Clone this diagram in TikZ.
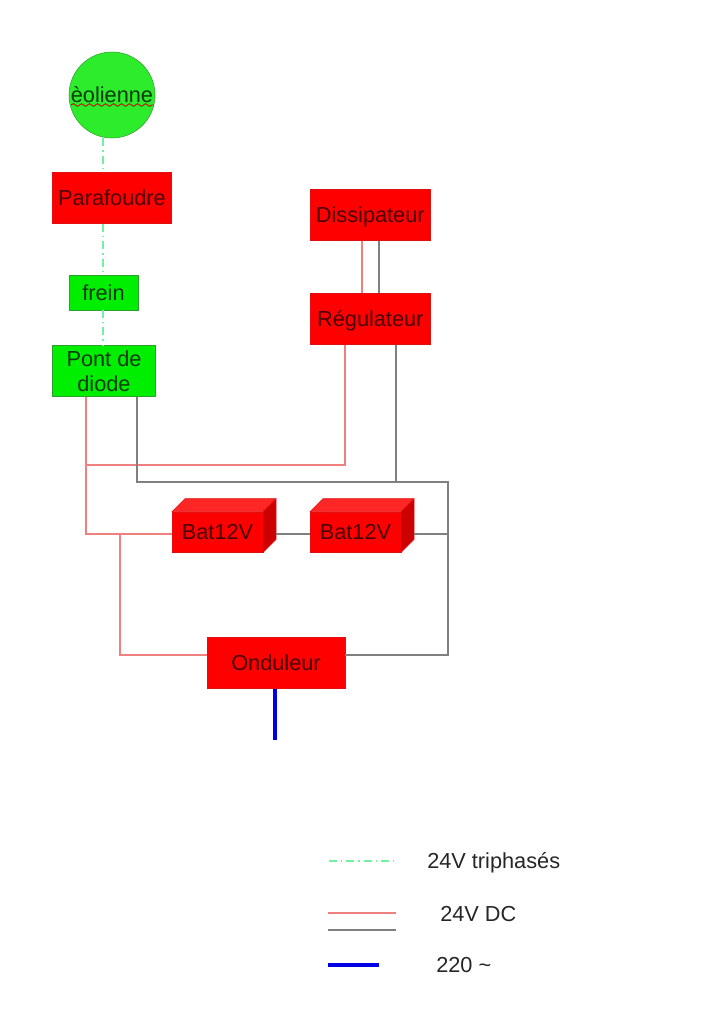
\documentclass[tikz,border=0pt]{standalone}
\usepackage{fontspec}
\setmainfont{Liberation Sans}
\usetikzlibrary{decorations.pathmorphing,calc}
\definecolor{boxred}{HTML}{FF0000}
\definecolor{boxline}{HTML}{E01010}
\definecolor{boxgreen}{HTML}{00EE00}
\definecolor{circgreen}{HTML}{2CEC2C}
\definecolor{greenline}{HTML}{2E9E2E}
\definecolor{wirered}{HTML}{F08080}
\definecolor{wiregray}{HTML}{808080}
\definecolor{wiregreen}{HTML}{70F0A0}
\definecolor{wireblue}{HTML}{0000E6}
\definecolor{txtred}{HTML}{4A0000}
\definecolor{txtgreen}{HTML}{0A3A0A}
\tikzset{
  x=0.75pt,y=-0.75pt,
  every node/.style={font=\fontsize{16.3}{18.5}\selectfont,inner sep=0pt,align=center},
  onebase/.style={text height=11.6pt,text depth=0pt},
  redbox/.style={rectangle,draw=boxline,fill=boxred,line width=0.4pt,text=txtred,onebase},
  greenbox/.style={rectangle,draw=greenline,fill=boxgreen,line width=0.4pt,text=txtgreen},
  wirer/.style={draw=wirered,line width=0.8pt},
  wireg/.style={draw=wiregray,line width=0.8pt},
  wiret/.style={draw=wiregreen,line width=1pt,dash pattern=on 6pt off 3pt on 1pt off 3pt},
  wireb/.style={draw=wireblue,line width=3pt},
  legendtext/.style={text=black!85,anchor=west},
  capface/.style={draw=boxline,line width=0.4pt,line join=round},
}
\begin{document}
\begin{tikzpicture}
\useasboundingbox (0,0) rectangle (724,1024);
% nodes
\node[circle,draw=greenline,fill=circgreen,line width=0.4pt,minimum size=64.5pt,text=txtgreen,onebase] (eol) at (112,95) {èolienne};
\node[redbox,minimum width=89.6pt,minimum height=38.6pt] (para) at (112,198) {Parafoudre};
\node[greenbox,minimum width=51.4pt,minimum height=26pt,onebase] (frein) at (103.5,292.5) {frein};
\node[greenbox,minimum width=77.6pt,minimum height=38.6pt] (pont) at (104,371) {Pont de\\diode};
\node[redbox,minimum width=90.2pt,minimum height=38.6pt] (diss) at (370.3,215) {Dissipateur};
\node[redbox,minimum width=90.2pt,minimum height=38.6pt] (regu) at (370.3,319) {Régulateur};
\node[redbox,minimum width=68pt,minimum height=30pt] (bata) at (217.5,532) {Bat12V};
\node[redbox,minimum width=68pt,minimum height=30pt] (batb) at (355.5,532) {Bat12V};
\node[redbox,minimum width=103.2pt,minimum height=38.6pt] (ond) at (276,663) {Onduleur};
% battery faces
\foreach \b in {bata,batb}{
  \fill[boxred!85!white,capface] (\b.north west) -- ++(13,-13) -- ($(\b.north east)+(13,-13)$) -- (\b.north east) -- cycle;
  \fill[boxred!80!black,capface] (\b.north east) -- ++(13,-13) -- ($(\b.south east)+(13,-13)$) -- (\b.south east) -- cycle;
}
% squiggle
\coordinate (sqa) at (71,105);
\coordinate (sqb) at (154,105);
\draw[red!75!black,line width=0.6pt,decorate,decoration={snake,amplitude=1pt,segment length=6pt}] (sqa) -- (sqb);
% junctions
\coordinate (gx) at (103,0);
\coordinate (redl) at (86,0);
\coordinate (grayl) at (137,0);
\coordinate (redm) at (86,465);
\coordinate (redr) at (345,465);
\coordinate (gtop) at (137,482);
\coordinate (grt) at (448,482);
\coordinate (grmid) at (396,482);
\coordinate (redj) at (120,534);
\coordinate (redo) at (120,655);
\coordinate (bl) at (86,534);
\coordinate (gm) at (448,534);
\coordinate (gb) at (448,655);
\coordinate (blue) at (275,740);
% three-phase
\draw[wiret] (gx |- eol.south) -- (gx |- para.north);
\draw[wiret] (gx |- para.south) -- (gx |- frein.north);
\draw[wiret] (gx |- frein.south) -- (gx |- pont.north);
% dc red
\draw[wirer] (redl |- pont.south) -- (bl) -- (bl -| bata.west);
\draw[wirer] (redm) -- (redr) -- (redr |- regu.south);
\draw[wirer] (redj) -- (redo) -- (redo -| ond.west);
\draw[wirer] (362,0 |- diss.south) -- (362,0 |- regu.north);
% dc gray
\draw[wireg] (379,0 |- diss.south) -- (379,0 |- regu.north);
\draw[wireg] (grayl |- pont.south) -- (gtop) -- (grt) -- (gb) -- (gb -| ond.east);
\draw[wireg] (grmid |- regu.south) -- (grmid);
\coordinate (batae) at ($(bata.east)+(13,2)$);
\coordinate (batbe) at ($(batb.east)+(13,2)$);
\draw[wireg] (batae) -- (batae -| batb.west);
\draw[wireg] (batbe) -- (gm);
% ac
\draw[wireb] (blue |- ond.south) -- (blue);
% legend
\node[legendtext,onebase] (lta) at (427,860.5) {24V triphasés};
\node[legendtext,onebase] (ltb) at (440,914) {24V DC};
\node[legendtext,onebase] (ltc) at (436,965) {220 \char"007E};
\coordinate (la) at (329,861); \coordinate (lb) at (397,861);
\coordinate (lc) at (328,913); \coordinate (ld) at (396,913);
\coordinate (le) at (328,930); \coordinate (lf) at (396,930);
\coordinate (lg) at (328,965); \coordinate (lh) at (379,965);
\draw[wiret] (la) -- (lb);
\draw[wirer] (lc) -- (ld);
\draw[wireg] (le) -- (lf);
\draw[wireb] (lg) -- (lh);
\end{tikzpicture}
\end{document}
